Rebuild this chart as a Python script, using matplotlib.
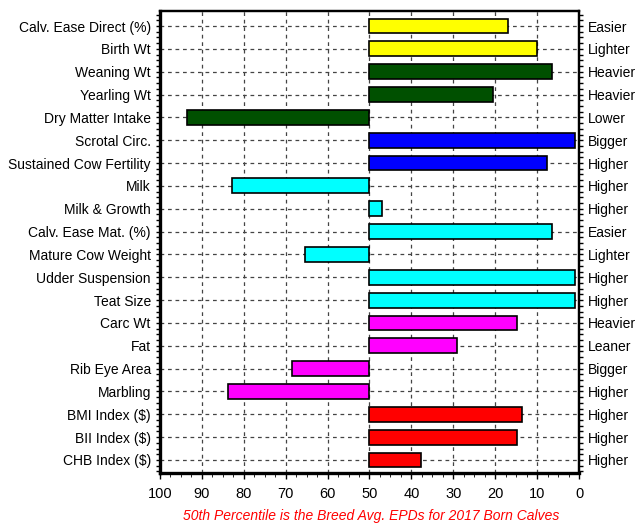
import matplotlib.pyplot as plt
from matplotlib.ticker import MultipleLocator

plt.rcParams['font.family'] = ['Liberation Sans', 'DejaVu Sans']

traits = ['Calv. Ease Direct (%)', 'Birth Wt', 'Weaning Wt', 'Yearling Wt',
          'Dry Matter Intake', 'Scrotal Circ.', 'Sustained Cow Fertility',
          'Milk', 'Milk & Growth', 'Calv. Ease Mat. (%)', 'Mature Cow Weight',
          'Udder Suspension', 'Teat Size', 'Carc Wt', 'Fat', 'Rib Eye Area',
          'Marbling', 'BMI Index ($)', 'BII Index ($)', 'CHB Index ($)']
directions = ['Easier', 'Lighter', 'Heavier', 'Heavier', 'Lower', 'Bigger',
              'Higher', 'Higher', 'Higher', 'Easier', 'Lighter', 'Higher',
              'Higher', 'Heavier', 'Leaner', 'Bigger', 'Higher', 'Higher',
              'Higher', 'Higher']
percentiles = [17, 10, 6.5, 20.5, 93.6, 1, 7.7, 82.7, 46.9, 6.5, 65.4,
               0.9, 0.9, 14.8, 29.2, 68.4, 83.8, 13.5, 14.8, 37.6]
colors = ['#FFFF00', '#FFFF00', '#005000', '#005000', '#005000', '#0000FF',
          '#0000FF', '#00FFFF', '#00FFFF', '#00FFFF', '#00FFFF', '#00FFFF',
          '#00FFFF', '#FF00FF', '#FF00FF', '#FF00FF', '#FF00FF', '#FF0000',
          '#FF0000', '#FF0000']
breed_avg = 50
caption = '50th Percentile is the Breed Avg. EPDs for 2017 Born Calves'

fig = plt.figure(figsize=(6.37, 5.23), dpi=100)
ax = fig.add_axes([0.251, 0.0956, 0.658, 0.883])

ypos = range(len(traits))
widths = [p - breed_avg for p in percentiles]
ax.barh(ypos, widths, left=breed_avg, height=0.65, color=colors,
        edgecolor='black', linewidth=1.2, zorder=3)

ax.set_xlim(100, 0)
ax.set_ylim(len(traits) - 0.43, -0.65)
ax.xaxis.set_major_locator(MultipleLocator(10))
ax.xaxis.set_minor_locator(MultipleLocator(2.5))
ax.set_yticks(list(ypos))
ax.set_yticklabels(traits, fontsize=10)
ax.yaxis.set_minor_locator(MultipleLocator(0.25))
ax.tick_params(axis='x', labelsize=10.5, length=4, width=1, pad=6)
ax.tick_params(axis='x', which='minor', length=3)
ax.tick_params(axis='y', which='both', right=True, length=3, width=1)

ax2 = ax.twinx()
ax2.set_ylim(ax.get_ylim())
ax2.set_yticks(list(ypos))
ax2.set_yticklabels(directions, fontsize=10)
ax2.yaxis.set_minor_locator(MultipleLocator(0.25))
ax2.tick_params(axis='y', which='both', length=3, width=1)

ax.grid(True, color='#444444', linestyle=(0, (3, 3)), linewidth=0.9, zorder=0)
ax.set_axisbelow(True)

for side in ['left', 'bottom']:
    ax.spines[side].set_linewidth(2.4)
for side in ['top', 'right']:
    ax.spines[side].set_linewidth(1.6)
    ax2.spines[side].set_linewidth(1.6)

fig.text(0.583, 0.013, caption, color='red', style='italic', fontsize=10,
         ha='center', va='center')

fig.savefig('out.png')
